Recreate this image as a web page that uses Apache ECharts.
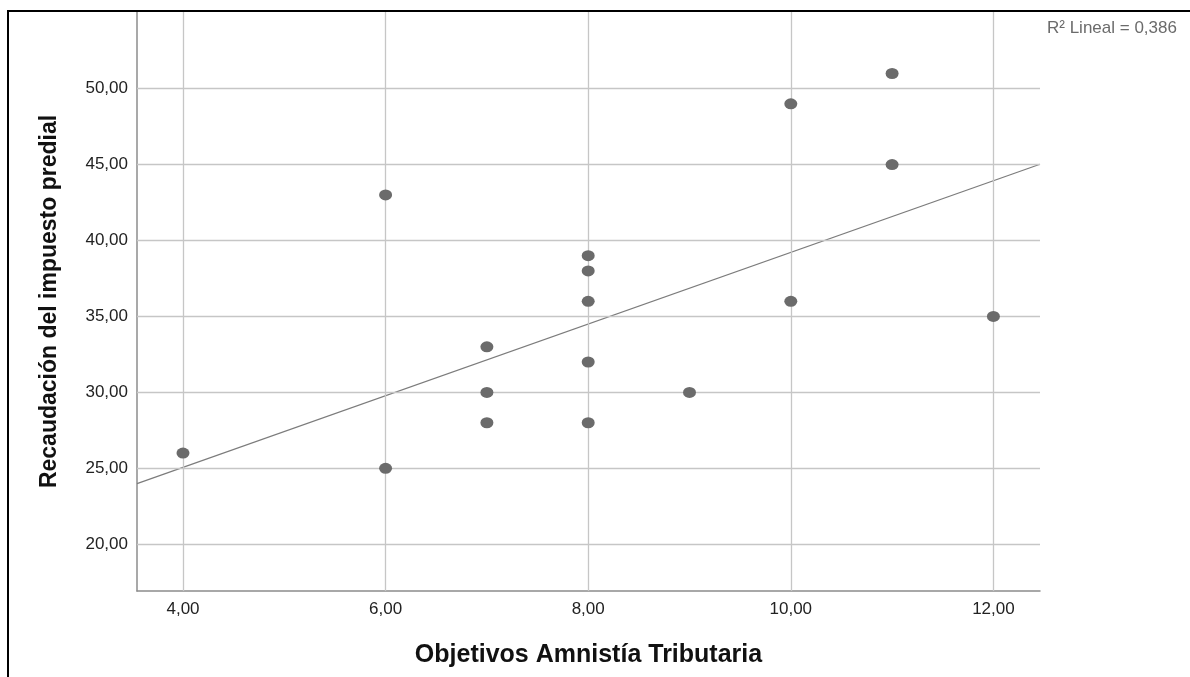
<!DOCTYPE html>
<html><head><meta charset="utf-8">
<script src="https://cdn.jsdelivr.net/npm/echarts@6/dist/echarts.min.js"></script>
<style>html,body{margin:0;padding:0;background:#fff}#c{width:1190px;height:677px}</style>
</head><body><div id="c"></div>
<script>
// Data
const xValues = [4, 6, 6, 7, 7, 7, 8, 8, 8, 8, 8, 9, 10, 10, 11, 11, 12];
const yValues = [26, 43, 25, 33, 30, 28, 39, 38, 36, 32, 28, 30, 49, 36, 51, 45, 35];
const xTicks = [4, 6, 8, 10, 12];
const yTicks = [20, 25, 30, 35, 40, 45, 50];
const xRange = [3.546, 12.46];
const yRange = [16.92, 55.05];
const fitIntercept = 15.62;
const fitSlope = 2.36;
const xTitle = 'Objetivos Amnistía Tributaria';
const yTitle = 'Recaudación del impuesto predial';
const r2Label = 'R² Lineal = 0,386';

const FONT = '"Liberation Sans", Arial, sans-serif';
const fmt = v => Number(v).toFixed(2).replace('.', ',');
const points = xValues.map((x, i) => [x, yValues[i]]);
const fitLine = xRange.map(x => [x, fitIntercept + fitSlope * x]);

const chart = echarts.init(document.getElementById('c'), null, {renderer: 'canvas'});
chart.setOption({
  animation: false,
  backgroundColor: '#fff',
  grid: {left: 137, right: 150, top: 12, bottom: 86, containLabel: false},
  xAxis: {
    type: 'value', min: xRange[0], max: xRange[1],
    axisLine: {show: true, lineStyle: {color: '#8c8c8c', width: 1.5}},
    axisTick: {show: false},
    splitLine: {show: false},
    axisLabel: {customValues: xTicks, formatter: fmt, fontSize: 17, color: '#222', margin: 10, fontFamily: FONT},
    name: xTitle, nameLocation: 'middle', nameGap: 52,
    nameTextStyle: {fontSize: 25, fontWeight: 'bold', color: '#111', fontFamily: FONT}
  },
  yAxis: {
    type: 'value', min: yRange[0], max: yRange[1],
    axisLine: {show: true, lineStyle: {color: '#8c8c8c', width: 1.5}},
    axisTick: {show: false},
    splitLine: {show: false},
    axisLabel: {customValues: yTicks, formatter: fmt, fontSize: 17, color: '#222', margin: 9, fontFamily: FONT},
    name: yTitle, nameLocation: 'middle', nameGap: 76,
    nameTextStyle: {fontSize: 23, fontWeight: 'bold', color: '#111', fontFamily: FONT}
  },
  series: [
    {
      type: 'line', data: [[xRange[0], yRange[0]]], showSymbol: false, symbol: 'none',
      lineStyle: {opacity: 0}, z: 1, silent: true,
      markLine: {
        silent: true, symbol: ['none', 'none'], label: {show: false}, animation: false,
        lineStyle: {color: '#c6c6c6', width: 1.3, type: 'solid'},
        emphasis: {disabled: true},
        data: xTicks.map(v => ({xAxis: v})).concat(yTicks.map(v => ({yAxis: v})))
      }
    },
    {
      type: 'line', data: fitLine, showSymbol: false, symbol: 'none', z: 3, silent: true,
      lineStyle: {color: '#7c7c7c', width: 1.2}
    },
    {
      type: 'scatter', data: points, symbol: 'circle', symbolSize: [13, 11], z: 5,
      itemStyle: {color: '#6b6b6b', opacity: 1}
    }
  ],
  graphic: [
    {type: 'rect', shape: {x: 8, y: 11, width: 1400, height: 900}, style: {fill: 'none', stroke: '#000', lineWidth: 2}, z: 100, silent: true},
    {type: 'text', left: 1047, top: 20, style: {text: r2Label, fontSize: 17, fill: '#6b6b6b', fontFamily: FONT}, z: 100}
  ]
});
</script></body></html>
